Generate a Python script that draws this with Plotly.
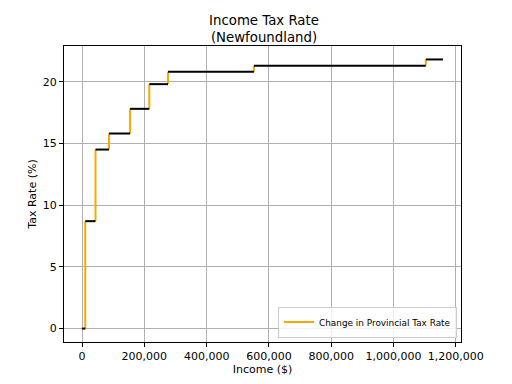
import plotly.graph_objects as go

# Bracket thresholds (income $) and provincial tax rates (%)
thresholds = [0, 10382, 43198, 86395, 154244, 215943, 275870, 551739, 1103478]
end_income = 1158652
rates = [0, 8.7, 14.5, 15.8, 17.8, 19.8, 20.8, 21.3, 21.8]

x_ticks = [0, 200000, 400000, 600000, 800000, 1000000, 1200000]
x_tick_labels = ["0", "200,000", "400,000", "600,000", "800,000", "1,000,000", "1,200,000"]
y_ticks = [0, 5, 10, 15, 20]

# Horizontal (black) segments
bx, by = [], []
bounds = thresholds[1:] + [end_income]
for i in range(len(rates)):
    bx += [thresholds[i], bounds[i], None]
    by += [rates[i], rates[i], None]

# Vertical (orange) change segments
ox, oy = [], []
for i in range(1, len(rates)):
    ox += [thresholds[i], thresholds[i], None]
    oy += [rates[i - 1], rates[i], None]

fig = go.Figure()
fig.add_trace(go.Scatter(x=ox, y=oy, mode="lines", line=dict(color="orange", width=2),
                         name="Change in Provincial Tax Rate", showlegend=True))
fig.add_trace(go.Scatter(x=bx, y=by, mode="lines", line=dict(color="black", width=2),
                         showlegend=False, hoverinfo="skip"))

font = "DejaVu Sans"
fig.update_layout(
    width=512, height=384,
    margin=dict(l=56, r=59, t=38, b=50),
    paper_bgcolor="white", plot_bgcolor="white",
    font=dict(family=font, size=11, color="black"),
    title=dict(text="Income Tax Rate<br>(Newfoundland)", x=0.5, xanchor="center",
               y=0.957, yanchor="top", font=dict(size=13.3, family=font)),
    xaxis=dict(range=[-57933, 1216585], tickvals=x_ticks, ticktext=x_tick_labels,
               showgrid=True, gridcolor="#b0b0b0", gridwidth=1, zeroline=False,
               showline=True, linecolor="black", linewidth=1, mirror=True,
               ticks="outside", ticklen=4, tickcolor="black", automargin=False,
               title=dict(text="Income ($)", standoff=2, font=dict(size=11))),
    yaxis=dict(range=[-1.09, 22.89], tickvals=y_ticks,
               showgrid=True, gridcolor="#b0b0b0", gridwidth=1, zeroline=False,
               showline=True, linecolor="black", linewidth=1, mirror=True,
               ticks="outside", ticklen=4, tickcolor="black", automargin=False,
               title=dict(text="Tax Rate (%)", standoff=3, font=dict(size=11))),
    legend=dict(x=0.99, y=0.015, xanchor="right", yanchor="bottom",
                bgcolor="rgba(255,255,255,0.8)", bordercolor="#cccccc", borderwidth=1,
                font=dict(size=8.9, family=font)),
)

fig.write_html("out.html")
